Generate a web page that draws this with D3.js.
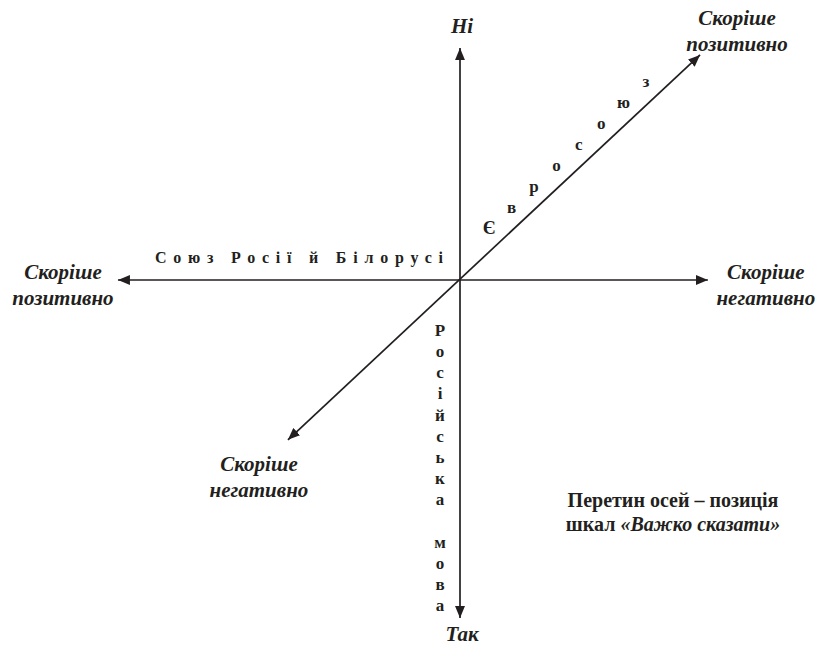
<!DOCTYPE html>
<html>
<head>
<meta charset="utf-8">
<script src="https://cdn.jsdelivr.net/npm/d3@7/dist/d3.min.js"></script>
<style>
  html, body { margin: 0; padding: 0; background: #fff; }
  svg { display: block; }
</style>
</head>
<body>
<script>
// ---- data (abstract diagram units) ----
const axisNames = ["Союз Росії й Білорусі", "Російська мова", "Євросоюз"];
// axis start (negative end) and end (positive end) in diagram units
const axisStartX = [-10.06, 0, -5.06];
const axisStartY = [0, -9.94, -4.70];
const axisEndX   = [7.29, 0, 7.06];
const axisEndY   = [0, 6.82, 6.62];
// end labels: [start label, end label]
const startLabels = [["Скоріше", "позитивно"], ["Так"], ["Скоріше", "негативно"]];
const endLabels   = [["Скоріше", "негативно"], ["Ні"], ["Скоріше", "позитивно"]];
const noteLine1 = "Перетин осей – позиція";
const noteLine2a = "шкал ";
const noteLine2b = "«Важко сказати»";

const FONT = "'Liberation Serif', Tinos, 'Times New Roman', 'DejaVu Serif', serif";
const W = 819, H = 648;
const ink = "#231f20";
const svg = d3.select("body").append("svg").attr("width", W).attr("height", H)
  .attr("font-family", FONT).attr("fill", ink);

const x = d3.scaleLinear().domain([-10, 10]).range([120, 800]);
const y = d3.scaleLinear().domain([-10, 10]).range([620, -60]);

svg.append("defs").append("marker")
  .attr("id", "arr").attr("viewBox", "0 0 12 10")
  .attr("refX", 12).attr("refY", 5)
  .attr("markerWidth", 12).attr("markerHeight", 10)
  .attr("markerUnits", "userSpaceOnUse")
  .attr("orient", "auto-start-reverse")
  .append("path").attr("d", "M0,0 L12,5 L0,10 Z").attr("fill", ink);

// axes lines
axisNames.forEach((n, i) => {
  svg.append("line")
    .attr("x1", x(axisStartX[i])).attr("y1", y(axisStartY[i]))
    .attr("x2", x(axisEndX[i])).attr("y2", y(axisEndY[i]))
    .attr("stroke", ink).attr("stroke-width", 1.7)
    .attr("marker-start", "url(#arr)").attr("marker-end", "url(#arr)");
});

function endLabel(lines, cx, cy) {
  const t = svg.append("text")
    .attr("text-anchor", "middle").attr("font-family", FONT).attr("fill", ink)
    .attr("font-size", 21).attr("font-weight", "bold").attr("font-style", "italic");
  lines.forEach((l, k) => {
    t.append("tspan").attr("x", cx).attr("y", cy + k * 26).text(l);
  });
}

// horizontal axis labels
endLabel(startLabels[0], x(axisStartX[0]) - 55, y(0) - 1);
endLabel(endLabels[0], x(axisEndX[0]) + 58, y(0) - 1);
// vertical axis labels
endLabel(endLabels[1], x(0) + 2, y(axisEndY[1]) - 15);
endLabel(startLabels[1], x(0) + 2, y(axisStartY[1]) + 23);
// diagonal axis labels
endLabel(endLabels[2], x(axisEndX[2]) + 37, y(axisEndY[2]) - 30);
endLabel(startLabels[2], x(axisStartX[2]) - 29, y(axisStartY[2]) + 31);

// axis name: horizontal, letter-spaced
svg.append("text")
  .attr("x", 155).attr("y", y(0) - 17).attr("font-family", FONT).attr("fill", ink)
  .attr("font-size", 16).attr("font-weight", "bold")
  .attr("textLength", 288).attr("lengthAdjust", "spacing")
  .text(axisNames[0]);

// axis name: vertical, stacked letters
Array.from(axisNames[1]).forEach((ch, k) => {
  svg.append("text")
    .attr("x", x(0) - 20).attr("y", y(0) + 56 + k * 21.15)
    .attr("text-anchor", "middle").attr("font-family", FONT).attr("fill", ink)
    .attr("font-size", 17).attr("font-weight", "bold")
    .text(ch);
});

// axis name: diagonal, letters along the line
{
  const dx = x(axisEndX[2]) - x(0), dy = y(axisEndY[2]) - y(0);
  const len = Math.hypot(dx, dy);
  const ux = dx / len, uy = dy / len;
  const nx = uy, ny = -ux; // perpendicular pointing up-left
  Array.from(axisNames[2]).forEach((ch, k) => {
    const d = 56 + k * 30.7;
    const px = x(0) + ux * d + nx * 17;
    const py = y(0) + uy * d + ny * 17;
    svg.append("text")
      .attr("x", px).attr("y", py + 5)
      .attr("text-anchor", "middle").attr("font-family", FONT).attr("fill", ink)
      .attr("font-size", k === 0 ? 19 : 17).attr("font-weight", "bold")
      .text(ch);
  });
}

// note
svg.append("text").attr("x", 673).attr("y", 507).attr("font-family", FONT).attr("fill", ink)
  .attr("text-anchor", "middle").attr("font-size", 20).attr("font-weight", "bold")
  .text(noteLine1);
const n2 = svg.append("text").attr("x", 673).attr("y", 531).attr("font-family", FONT).attr("fill", ink)
  .attr("text-anchor", "middle").attr("font-size", 20).attr("font-weight", "bold");
n2.append("tspan").text(noteLine2a);
n2.append("tspan").attr("font-style", "italic").text(noteLine2b);
</script>
</body>
</html>
